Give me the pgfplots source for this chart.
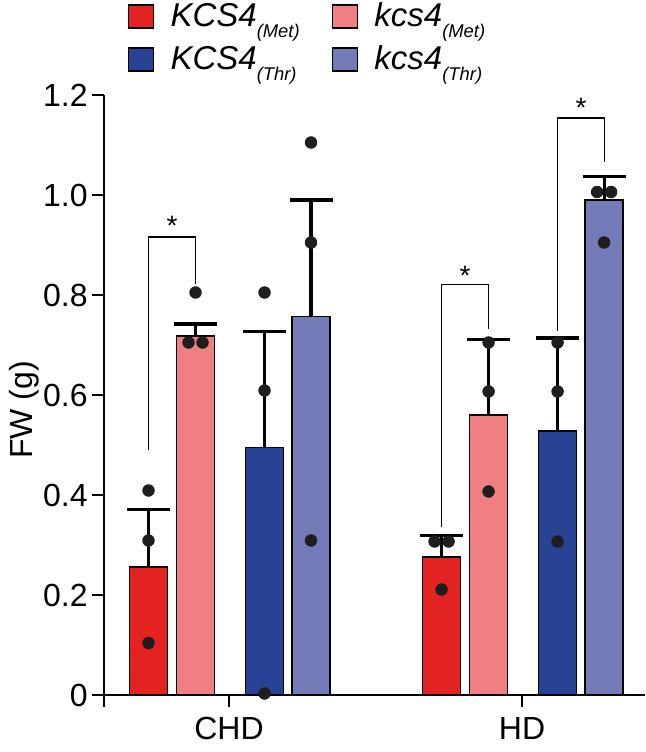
\documentclass[border=0pt]{standalone}
\usepackage{fontspec}
\setmainfont{Liberation Sans}
\usepackage{pgfplots}
\pgfplotsset{compat=1.18}
\definecolor{cRed}{RGB}{227,35,34}
\definecolor{cPink}{RGB}{239,127,131}
\definecolor{cBlue}{RGB}{40,66,148}
\definecolor{cPurp}{RGB}{114,122,184}
\definecolor{cDot}{RGB}{30,30,30}
\pgfplotsset{
  mybar/.style={ybar, bar width=38, bar shift=0pt, draw=black, line width=0.75pt, fill=#1,
    legend image code/.code={\draw[fill=#1, draw=black, line width=0.75pt] (0pt,-5.75pt) rectangle (12.5pt,5.75pt);
      \path[draw=none, fill=none] (0pt,-0.1pt) rectangle (19pt,0.1pt);},
    error bars/.cd, y dir=plus, y explicit,
    error bar style={line width=1.6pt, black},
    error mark options={rotate=90, mark size=10.75pt, line width=1.6pt, black}},
}
\newcommand{\sub}[1]{\raisebox{-5.5pt}{\fontsize{9.2}{10}\selectfont #1}}
\begin{document}
\begin{tikzpicture}
\begin{axis}[name=ax, scale only axis, width=270.5pt, height=300pt,
  xmin=104, xmax=645, ymin=0, ymax=1.2,
  axis x line*=bottom, axis y line*=left,
  axis line style={line width=1pt, black},
  xtick={104,229,522}, xticklabels={,CHD,HD},
  ytick={0,0.2,0.4,0.6,0.8,1.0,1.2}, yticklabels={0,0.2,0.4,0.6,0.8,1.0,1.2},
  tick align=outside, major tick length=6pt, tick style={line width=1pt, black},
  ticklabel style={font=\fontsize{16}{18}\selectfont},
  yticklabel style={inner sep=2pt},
  xticklabel style={inner sep=5pt},
  ylabel={FW (g)},
  ylabel style={font=\fontsize{16}{18}\selectfont, at={(axis description cs:-0.133,0.475)}, anchor=base},
  clip=false,
  legend columns=2,
  legend cell align=left,
  legend style={at={(axis description cs:0.044,1.16)}, anchor=north west, draw=none, fill=none,
    inner sep=0pt, outer sep=0pt,
    font=\fontsize{16.5}{18}\selectfont\itshape, row sep=4pt,
    /tikz/every even column/.append style={column sep=14pt}},
]
\addplot[mybar=cRed] coordinates {(148.5,0.256) +- (0,0.115) (441.5,0.276) +- (0,0.043)};
\addlegendentry{KCS4\sub{(Met)}}
\addplot[mybar=cPink] coordinates {(195.5,0.718) +- (0,0.024) (488.5,0.560) +- (0,0.151)};
\addlegendentry{kcs4\sub{(Met)}}
\addplot[mybar=cBlue] coordinates {(264.5,0.495) +- (0,0.232) (557.5,0.528) +- (0,0.186)};
\addlegendentry{KCS4\sub{(Thr)}}
\addplot[mybar=cPurp] coordinates {(311,0.757) +- (0,0.233) (604,0.990) +- (0,0.047)};
\addlegendentry{kcs4\sub{(Thr)}}
% individual points
\addplot[only marks, mark=*, mark size=2.9pt, cDot, forget plot] coordinates {
 (148.5,0.409) (148.5,0.309) (148.5,0.104)
 (195.5,0.805) (188.5,0.705) (202.5,0.705)
 (264.5,0.805) (264.5,0.609) (264.5,0.003)
 (311,1.105) (311,0.905) (311,0.309)
 (434.5,0.307) (448.5,0.307) (441.5,0.211)
 (488.5,0.705) (488.5,0.607) (488.5,0.407)
 (557.5,0.705) (557.5,0.607) (557.5,0.307)
 (597,1.006) (611,1.006) (604,0.905)
};
% significance brackets
\addplot[black, line width=0.6pt, mark=none, forget plot] coordinates {(148.5,0.49) (148.5,0.916) (195.5,0.916) (195.5,0.823)};
\addplot[black, line width=0.6pt, mark=none, forget plot] coordinates {(441.5,0.336) (441.5,0.821) (488.5,0.821) (488.5,0.732)};
\addplot[black, line width=0.6pt, mark=none, forget plot] coordinates {(557.5,0.728) (557.5,1.154) (604,1.154) (604,1.066)};
\node[anchor=base, inner sep=0pt, font=\fontsize{14}{14}\selectfont] at (axis cs:172,0.919) {*};
\node[anchor=base, inner sep=0pt, font=\fontsize{14}{14}\selectfont] at (axis cs:465,0.819) {*};
\node[anchor=base, inner sep=0pt, font=\fontsize{14}{14}\selectfont] at (axis cs:581,1.156) {*};
\end{axis}
\pgfresetboundingbox
\path ([xshift=-52pt,yshift=-28.5pt]ax.south west) rectangle ([yshift=47.5pt]ax.north east);
\end{tikzpicture}
\end{document}
